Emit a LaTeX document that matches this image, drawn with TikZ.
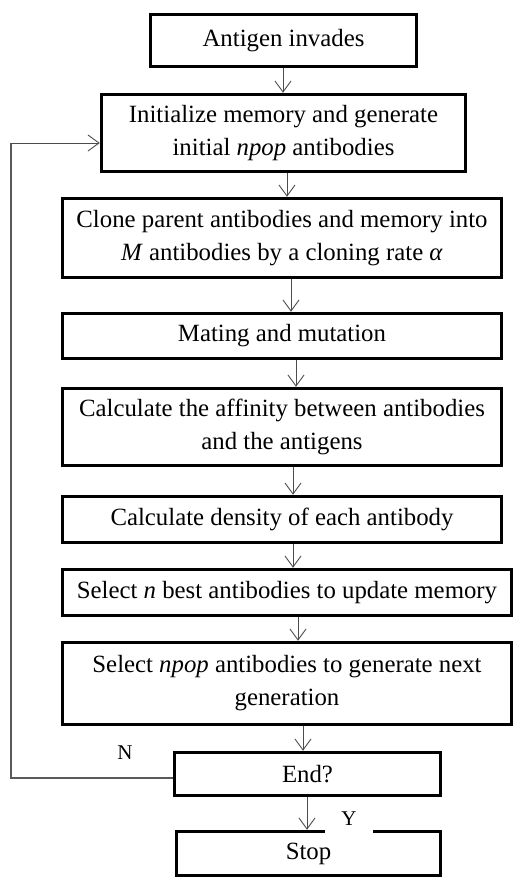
\documentclass[tikz,border=0pt]{standalone}
\usepackage{fontspec}
\setmainfont{Liberation Serif}
\usetikzlibrary{arrows.meta}
\begin{document}
\begin{tikzpicture}[x=1pt,y=-1pt,
  box/.style={draw=black, line width=3.5pt, inner sep=0pt, align=center, font=\fontsize{24.8}{33}\selectfont},
  arr/.style={draw=black!70, line width=0.9pt, -{Straight Barb[length=11pt,width=16pt,line width=0.9pt]}},
  loopline/.style={draw=black!65, line width=1.1pt},
  lbl/.style={font=\fontsize{21}{24}\selectfont, inner sep=0pt}]
\useasboundingbox[fill=white] (0,0) rectangle (515,879);
\node[box, minimum width=266pt, minimum height=52pt] (a) at (283.5,40.5) {Antigen invades};
\node[box, minimum width=364pt, minimum height=77pt] (init) at (283.5,133) {Initialize memory and generate\\initial \textit{npop} antibodies};
\node[box, minimum width=439pt, minimum height=79pt] (clone) at (282,238) {Clone parent antibodies and memory into\\\textit{M} antibodies by a cloning rate \textit{α}};
\node[box, minimum width=439pt, minimum height=45pt] (mate) at (282,336) {Mating and mutation};
\node[box, minimum width=439pt, minimum height=77pt] (aff) at (282,427) {Calculate the affinity between antibodies\\and the antigens};
\node[box, minimum width=439pt, minimum height=46pt] (dens) at (282,519.5) {Calculate density of each antibody};
\node[box, minimum width=449pt, minimum height=46pt] (seln) at (287,592.5) {Select \textit{n} best antibodies to update memory};
\node[box, minimum width=449pt, minimum height=82pt] (selp) at (287,683.5) {Select \textit{npop} antibodies to generate next\\generation};
\node[box, minimum width=266pt, minimum height=43pt] (end) at (307.5,774) {End?};
\node[box, minimum width=264pt, minimum height=44pt] (stop) at (308.5,853.5) {Stop};

\draw[arr] (a.south -| 283,0) -- (init.north -| 283,0);
\draw[arr] (init.south -| 287,0) -- (clone.north -| 287,0);
\draw[arr] (clone.south -| 291,0) -- (mate.north -| 291,0);
\draw[arr] (mate.south -| 296,0) -- (aff.north -| 296,0);
\draw[arr] (aff.south -| 293,0) -- (dens.north -| 293,0);
\draw[arr] (dens.south -| 293,0) -- (seln.north -| 293,0);
\draw[arr] (seln.south -| 298,0) -- (selp.north -| 298,0);
\draw[arr] (selp.south -| 303,0) -- (end.north -| 303,0);
\draw[arr] (end.south -| 307,0) -- (stop.north -| 307,0);

\coordinate (lb) at (11,778);
\coordinate (lt) at (11,143);
\draw[loopline] (end.west |- lb) -- (lb) -- (lt);
\draw[arr] (lt) -- (init.west |- lt);

\node[lbl] (nl) at (125,753) {N};
\node[lbl, fill=white, minimum width=48pt, minimum height=27pt] (yl) at (349,819) {Y};
\end{tikzpicture}
\end{document}
